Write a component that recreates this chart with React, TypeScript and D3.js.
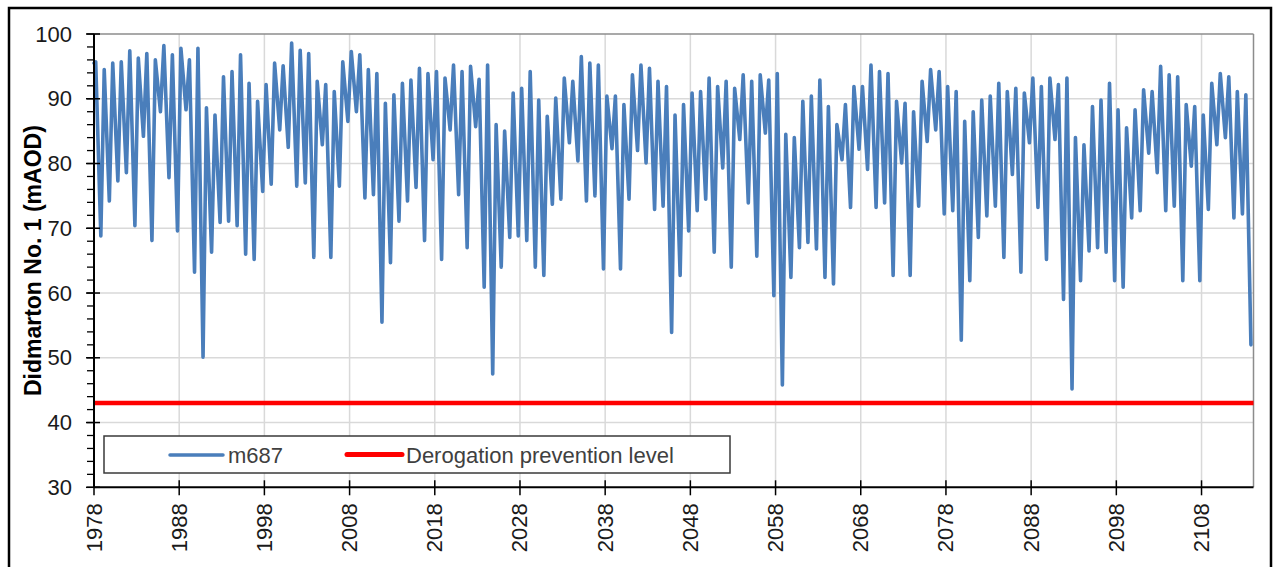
import React from "react";
import * as d3 from "d3";

// ---- Data ----
const firstYear = 1978;
const startLevel = 95.5;
// Annual high (spring peak) water level, mAOD, 1978..2113
const annualPeaks = [
  95.7, 94.5, 95.5, 95.7, 97.4, 96.3, 97.0, 96.0, 98.2, 96.8,
  97.8, 96.0, 97.8, 88.6, 87.5, 93.4, 94.2, 96.8, 92.4, 89.6,
  92.2, 95.5, 95.1, 98.6, 97.5, 97.0, 92.7, 92.2, 91.1, 95.7,
  97.3, 96.8, 94.5, 93.9, 89.3, 90.6, 92.4, 92.9, 94.7, 93.9,
  94.2, 93.2, 95.2, 94.2, 95.0, 93.0, 95.2, 86.0, 85.0, 90.9,
  91.6, 94.2, 89.8, 87.3, 90.1, 93.2, 92.7, 96.5, 95.5, 95.2,
  90.4, 90.4, 89.1, 93.7, 95.2, 94.7, 92.7, 91.9, 87.5, 89.1,
  90.9, 91.1, 93.2, 91.9, 92.7, 91.6, 93.7, 92.7, 93.7, 92.9,
  93.9, 84.5, 84.0, 89.6, 90.4, 92.9, 88.8, 86.0, 89.1, 91.9,
  91.9, 95.2, 94.2, 93.9, 89.6, 89.3, 88.0, 92.7, 94.5, 94.2,
  91.9, 91.1, 86.5, 88.0, 89.8, 90.4, 92.4, 91.1, 91.6, 90.9,
  93.2, 91.9, 93.2, 92.2, 93.2, 84.0, 82.9, 88.8, 89.8, 92.4,
  88.3, 85.5, 88.3, 91.4, 91.1, 95.0, 93.7, 93.4, 89.1, 88.8,
  87.5, 92.4, 93.9, 93.4, 91.1, 90.6,
];
// Annual low (autumn trough) water level, mAOD, 1978..2113
const annualTroughs = [
  68.8, 74.2, 77.3, 78.6, 70.4, 84.2, 68.1, 88.0, 77.8, 69.6,
  88.3, 63.2, 50.1, 66.3, 70.9, 71.1, 70.4, 66.0, 65.2, 75.7,
  76.8, 85.2, 82.5, 76.5, 77.0, 65.5, 82.9, 65.5, 76.5, 86.5,
  88.0, 74.7, 75.2, 55.5, 64.7, 71.1, 74.2, 76.3, 68.1, 80.6,
  65.2, 85.2, 75.2, 67.0, 85.7, 60.9, 47.5, 64.0, 68.6, 68.8,
  68.1, 64.0, 62.7, 73.7, 74.5, 83.2, 80.4, 74.2, 75.0, 63.7,
  82.3, 63.7, 74.5, 82.0, 80.1, 72.9, 73.4, 53.9, 62.7, 69.6,
  72.7, 74.5, 66.3, 79.3, 64.0, 83.7, 73.9, 65.7, 84.7, 59.6,
  45.8, 62.4, 67.0, 67.8, 66.8, 62.4, 61.4, 80.6, 73.2, 82.2,
  79.1, 73.2, 73.9, 62.7, 80.1, 62.7, 73.4, 83.4, 85.2, 72.2,
  72.7, 52.7, 61.9, 68.6, 71.9, 73.4, 65.5, 78.3, 63.2, 83.2,
  73.2, 65.2, 83.7, 59.0, 45.2, 61.9, 66.5, 67.0, 66.3, 61.9,
  60.9, 71.6, 72.7, 81.6, 78.6, 72.7, 73.4, 61.9, 79.6, 61.9,
  72.9, 82.9, 84.0, 71.6, 72.2, 52.0,
];
const peakFraction = 0.2; // time of year of the high
const troughFraction = 0.8; // time of year of the low
const derogationLevel = 43;
const xTicks = [1978, 1988, 1998, 2008, 2018, 2028, 2038, 2048, 2058, 2068, 2078, 2088, 2098, 2108];
const yTicks = [30, 40, 50, 60, 70, 80, 90, 100];
const yMinorTicks = d3.range(30, 100.01, 2);
const xDomain = [1978, 2114.1];
const yDomain = [30, 100];

type Pt = { t: number; v: number };
const series: Pt[] = [{ t: firstYear, v: startLevel }];
annualPeaks.forEach((p, i) => {
  series.push({ t: firstYear + i + peakFraction, v: p });
  series.push({ t: firstYear + i + troughFraction, v: annualTroughs[i] });
});

const W = 1276;
const H = 567;
const plot = { left: 94, right: 1253.5, top: 34, bottom: 487.3 };
const FONT = "'Liberation Sans', Arial, Helvetica, sans-serif";

export default function App() {
  const x = d3.scaleLinear().domain(xDomain).range([plot.left, plot.right]);
  const y = d3.scaleLinear().domain(yDomain).range([plot.bottom, plot.top]);
  const line = d3
    .line<Pt>()
    .x((d) => x(d.t))
    .y((d) => y(d.v));

  return (
    <svg
      width={W}
      height={H}
      style={{ position: "fixed", left: 0, top: 0, background: "#fff" }}
      fontFamily={FONT}
    >
      <rect x={0} y={0} width={W} height={H} fill="#fff" />
      {/* outer frame */}
      <rect x={9} y={8} width={1262} height={600} fill="none" stroke="#000" strokeWidth={2.5} />

      {/* gridlines */}
      {yTicks
        .filter((t) => t > 30 && t < 100)
        .map((t) => (
          <line key={"gy" + t} x1={plot.left} x2={plot.right} y1={y(t)} y2={y(t)} stroke="#d9d9d9" strokeWidth={1.5} />
        ))}
      {xTicks
        .filter((t) => t > 1978)
        .map((t) => (
          <line key={"gx" + t} x1={x(t)} x2={x(t)} y1={plot.top} y2={plot.bottom} stroke="#d9d9d9" strokeWidth={1.5} />
        ))}

      {/* plot border (top/right) */}
      <line x1={plot.left} x2={plot.right} y1={plot.top} y2={plot.top} stroke="#8c8c8c" strokeWidth={1.5} />
      <line x1={plot.right} x2={plot.right} y1={plot.top} y2={plot.bottom} stroke="#8c8c8c" strokeWidth={1.5} />

      {/* derogation prevention level */}
      <line
        x1={plot.left}
        x2={plot.right}
        y1={y(derogationLevel)}
        y2={y(derogationLevel)}
        stroke="#ff0000"
        strokeWidth={4.5}
      />

      {/* m687 series */}
      <path d={line(series) || ""} fill="none" stroke="#4a7ebb" strokeWidth={3.6} strokeLinejoin="round" strokeLinecap="round" />

      {/* legend */}
      <rect x={104} y={436} width={626} height={37} fill="#fff" stroke="#3a3a3a" strokeWidth={1.5} />
      <line x1={170} x2={223} y1={455} y2={455} stroke="#4a7ebb" strokeWidth={3.5} strokeLinecap="round" />
      <text x={228} y={455} dominantBaseline="central" fontSize={22} fill="#404040">
        m687
      </text>
      <line x1={347} x2={402} y1={454.5} y2={454.5} stroke="#ff0000" strokeWidth={5} strokeLinecap="round" />
      <text x={406} y={455} dominantBaseline="central" fontSize={22} fill="#404040">
        Derogation prevention level
      </text>

      {/* axes */}
      <line x1={plot.left} x2={plot.left} y1={plot.top} y2={plot.bottom} stroke="#000" strokeWidth={2} />
      <line x1={plot.left} x2={plot.right} y1={plot.bottom} y2={plot.bottom} stroke="#000" strokeWidth={2} />
      {yMinorTicks.map((t) => (
        <line key={"my" + t} x1={plot.left - 7} x2={plot.left} y1={y(t)} y2={y(t)} stroke="#000" strokeWidth={1.3} />
      ))}
      {yTicks.map((t) => (
        <g key={"ty" + t}>
          <line x1={plot.left - 8} x2={plot.left + 6} y1={y(t)} y2={y(t)} stroke="#000" strokeWidth={1.5} />
          <text x={72} y={y(t)} textAnchor="end" dominantBaseline="central" fontSize={22} fill="#1a1a1a">
            {t}
          </text>
        </g>
      ))}
      {xTicks.map((t) => (
        <g key={"tx" + t}>
          <line x1={x(t)} x2={x(t)} y1={plot.bottom - 7} y2={plot.bottom + 8} stroke="#000" strokeWidth={1.5} />
          <text
            transform={`translate(${x(t)},${plot.bottom + 16}) rotate(-90)`}
            textAnchor="end"
            dominantBaseline="central"
            fontSize={22}
            fill="#1a1a1a"
          >
            {t}
          </text>
        </g>
      ))}

      {/* y axis title */}
      <text
        transform={`translate(33,${(plot.top + plot.bottom) / 2}) rotate(-90)`}
        textAnchor="middle"
        dominantBaseline="central"
        fontSize={23}
        fontWeight="bold"
        fill="#000"
      >
        Didmarton No. 1 (mAOD)
      </text>
    </svg>
  );
}
